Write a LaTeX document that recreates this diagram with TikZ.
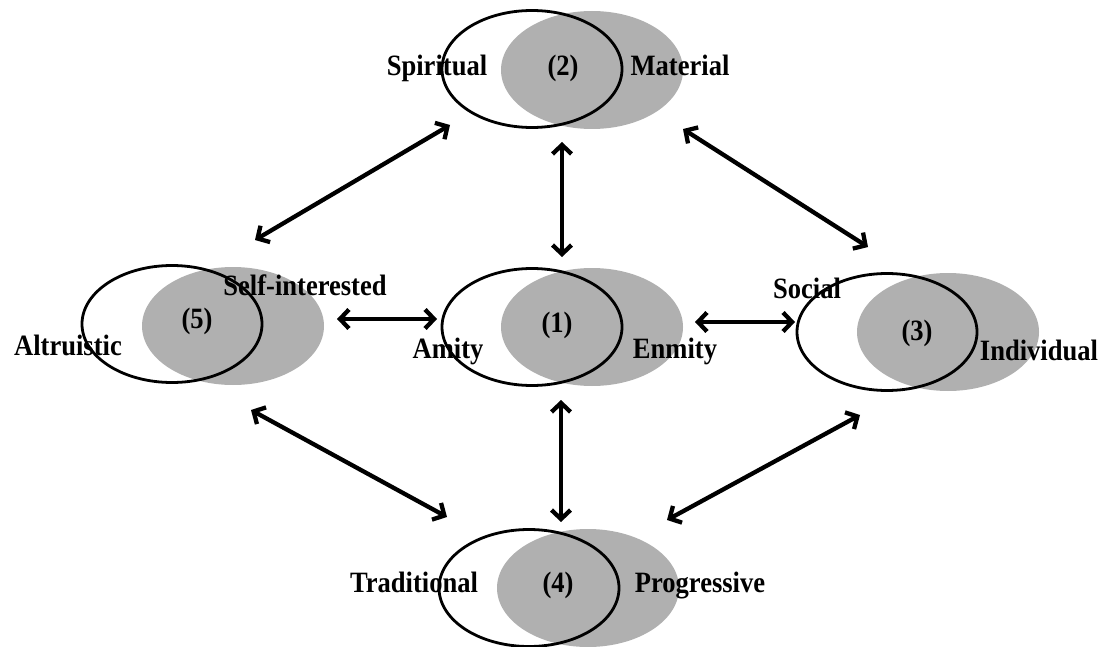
\documentclass[tikz,border=0pt]{standalone}
\usepackage{fontspec}
\setmainfont[BoldFeatures={FakeStretch=0.9}]{Liberation Serif}
\usetikzlibrary{shapes.geometric,arrows.meta}
\definecolor{shade}{RGB}{176,176,176}
\tikzset{
  greyov/.style={ellipse, fill=shade, inner sep=0pt, minimum width=182pt, minimum height=118pt},
  whiteov/.style={ellipse, draw=black, line width=2.8pt, inner sep=0pt, minimum width=180pt, minimum height=117pt},
  lab/.style={font=\bfseries\fontsize{29.5}{29.5}\selectfont, inner sep=0pt, anchor=base},
  arr/.style={line width=4.3pt, {Straight Barb[length=9pt,width=19pt]}-{Straight Barb[length=9pt,width=19pt]}}
}
\begin{document}
\begin{tikzpicture}[x=1pt,y=-1pt]
\useasboundingbox (0,0) rectangle (1102,647);
% grey ovals
\node[greyov] (g2) at (592,70) {};
\node[greyov] (g1) at (592,327) {};
\node[greyov] (g5) at (233,326) {};
\node[greyov] (g3) at (948,332) {};
\node[greyov] (g4) at (588,588) {};
% white ovals (outlines)
\node[whiteov] (w2) at (532,69) {};
\node[whiteov] (w1) at (532,327) {};
\node[whiteov] (w5) at (172,324) {};
\node[whiteov] (w3) at (887,332) {};
\node[whiteov] (w4) at (529,588) {};
% arrow end points
\coordinate (a2l) at (450,125);
\coordinate (a5t) at (255,240);
\coordinate (a2b) at (562,142);
\coordinate (a1t) at (562,257);
\coordinate (a2r) at (683,129);
\coordinate (a3t) at (868,247);
\coordinate (a5r) at (337,319);
\coordinate (a1l) at (437,319);
\coordinate (a1r) at (695,322);
\coordinate (a3l) at (795,322);
\coordinate (a1b) at (561,400);
\coordinate (a4t) at (561,522);
\coordinate (a5b) at (251,410);
\coordinate (a4l) at (447,517);
\coordinate (a3b) at (860,415);
\coordinate (a4r) at (667,520);
% arrows
\draw[arr] (a2l) -- (a5t);
\draw[arr] (a2b) -- (a1t);
\draw[arr] (a2r) -- (a3t);
\draw[arr] (a5r) -- (a1l);
\draw[arr] (a1r) -- (a3l);
\draw[arr] (a1b) -- (a4t);
\draw[arr] (a5b) -- (a4l);
\draw[arr] (a3b) -- (a4r);
% labels
\node[lab] (t2a) at (437,76) {Spiritual};
\node[lab] (t2n) at (563,76) {(2)};
\node[lab] (t2b) at (680,76) {Material};
\node[lab] (t1n) at (557,332) {(1)};
\node[lab] (t1a) at (448,358) {Amity};
\node[lab] (t1b) at (675,358) {Enmity};
\node[lab] (t5n) at (197,328) {(5)};
\node[lab] (t5b) at (305,295) {Self-interested};
\node[lab] (t5a) at (68,355) {Altruistic};
\node[lab] (t3n) at (917,340) {(3)};
\node[lab] (t3a) at (807,298) {Social};
\node[lab] (t3b) at (1039,360) {Individual};
\node[lab] (t4n) at (558,592) {(4)};
\node[lab] (t4a) at (414,592) {Traditional};
\node[lab] (t4b) at (700,592) {Progressive};
\end{tikzpicture}
\end{document}
